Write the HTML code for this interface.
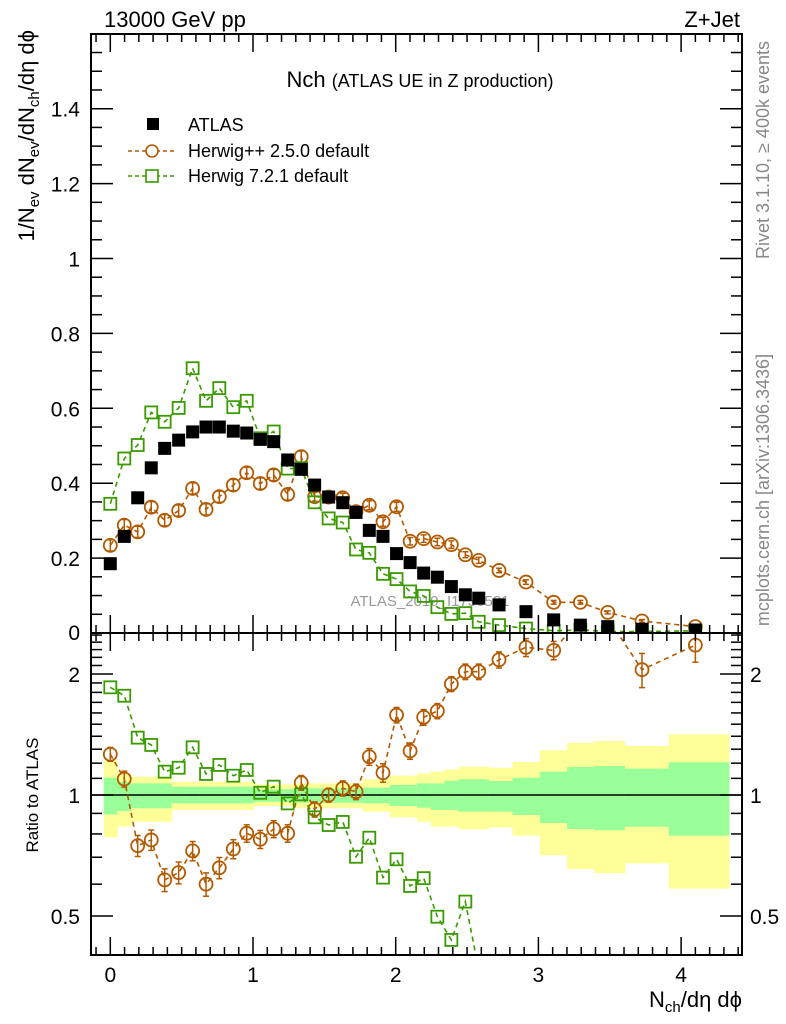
<!DOCTYPE html>
<html><head><meta charset="utf-8"><style>
html,body{margin:0;padding:0;background:#fff;width:786px;height:1024px;overflow:hidden;position:relative;}
svg{display:block;font-family:"Liberation Sans",Arial,sans-serif;}
</style></head><body>
<svg id="chart" style="position:absolute;left:0;top:0" width="786" height="1024" viewBox="0 0 786 1024" xmlns="http://www.w3.org/2000/svg"></svg>
<script>
// ---- data ----
const xVals = [0,0.098,0.192,0.287,0.381,0.479,0.577,0.671,0.764,0.862,0.956,1.051,1.145,1.243,1.338,1.432,1.530,1.629,1.722,1.815,1.911,2.006,2.101,2.196,2.292,2.390,2.488,2.582,2.724,2.913,3.107,3.294,3.486,3.726,4.100];
const atlasVals = [0.185,0.258,0.361,0.441,0.493,0.515,0.537,0.550,0.550,0.539,0.534,0.517,0.511,0.462,0.437,0.395,0.363,0.348,0.322,0.274,0.258,0.212,0.188,0.160,0.149,0.124,0.102,0.093,0.075,0.057,0.035,0.021,0.017,0.010,0.008];
const herwigPPVals = [0.234,0.288,0.270,0.336,0.301,0.327,0.386,0.330,0.364,0.395,0.428,0.399,0.422,0.370,0.471,0.364,0.363,0.361,0.324,0.341,0.297,0.337,0.245,0.252,0.243,0.236,0.209,0.194,0.167,0.136,0.082,0.082,0.055,0.032,0.017];
const herwig7Vals = [0.345,0.466,0.502,0.589,0.564,0.601,0.707,0.620,0.654,0.603,0.620,0.520,0.538,0.439,0.440,0.349,0.306,0.295,0.223,0.214,0.158,0.144,0.111,0.099,0.069,0.051,0.053,0.030,0.021,0.012,0.006,0.008,0.004,0.004,0.006];
const ratioPP = [1.263,1.096,0.748,0.773,0.615,0.641,0.726,0.600,0.659,0.734,0.803,0.776,0.823,0.803,1.073,0.921,1.0,1.039,1.019,1.245,1.136,1.581,1.287,1.561,1.618,1.889,2.027,2.027,2.17,2.33,2.29,3.9,3.2,2.05,2.36];
const ratio7 = [1.853,1.766,1.389,1.332,1.143,1.169,1.314,1.128,1.188,1.117,1.154,1.013,1.049,0.953,1.004,0.880,0.842,0.857,0.702,0.783,0.623,0.692,0.594,0.621,0.498,0.436,0.543,0.32,0.28,0.21,0.17,0.3,0.25,0.3,0.3];
const bandYelUp = [1.215,1.128,1.110,1.110,1.110,1.079,1.079,1.079,1.079,1.079,1.079,1.063,1.063,1.063,1.069,1.069,1.069,1.069,1.069,1.094,1.094,1.117,1.117,1.132,1.143,1.158,1.176,1.176,1.169,1.208,1.292,1.347,1.362,1.324,1.416];
const bandGrnUp = [1.104,1.079,1.069,1.069,1.069,1.049,1.049,1.049,1.049,1.049,1.049,1.033,1.033,1.033,1.039,1.039,1.039,1.039,1.039,1.043,1.043,1.059,1.059,1.069,1.069,1.085,1.094,1.094,1.083,1.104,1.143,1.174,1.181,1.163,1.206];
const bandGrnDn = [0.895,0.912,0.927,0.927,0.927,0.953,0.953,0.953,0.953,0.953,0.953,0.962,0.962,0.962,0.957,0.957,0.957,0.957,0.957,0.953,0.953,0.939,0.939,0.930,0.918,0.918,0.909,0.909,0.909,0.892,0.852,0.823,0.817,0.834,0.792];
const bandYelDn = [0.785,0.834,0.858,0.858,0.858,0.918,0.918,0.918,0.918,0.918,0.918,0.939,0.939,0.939,0.927,0.927,0.927,0.927,0.927,0.909,0.909,0.880,0.880,0.858,0.834,0.834,0.821,0.821,0.831,0.792,0.708,0.654,0.639,0.676,0.585];
const errPP = [0.015,0.015,0.015,0.015,0.015,0.015,0.015,0.015,0.015,0.015,0.015,0.015,0.015,0.015,0.015,0.012,0.012,0.012,0.012,0.012,0.012,0.012,0.01,0.01,0.01,0.01,0.008,0.008,0.006,0.006,0.005,0.005,0.004,0.004,0.003];
const errRatioPP = [0.05,0.05,0.045,0.045,0.04,0.04,0.04,0.04,0.04,0.04,0.04,0.04,0.04,0.04,0.045,0.04,0.04,0.045,0.045,0.06,0.06,0.07,0.06,0.07,0.07,0.08,0.09,0.09,0.1,0.12,0.12,0.2,0.2,0.2,0.22];
const xTicks = [0,1,2,3,4];
const yTicksTop = [0.2,0.4,0.6,0.8,1,1.2,1.4];
const yTickLabelsTop = ["0.2","0.4","0.6","0.8","1","1.2","1.4"];
const rTicks = [0.5,1,2];
const rTickLabels = ["0.5","1","2"];

// ---- axes ----
const L=91, R=742, T=34, M=633, B=955;
const X = v => 110.3 + v*142.7;
const Y = v => M - v*374.5;
const RY = r => 795 - 121*Math.log2(r);
const svg = document.getElementById('chart');
const NS='http://www.w3.org/2000/svg';
function mk(tag, attrs, parent){ const e=document.createElementNS(NS,tag); for(const k in attrs) e.setAttribute(k,attrs[k]); (parent||svg).appendChild(e); return e; }

const defs = mk('defs',{});
const c1 = mk('clipPath',{id:'ctop'},defs); mk('rect',{x:L,y:T,width:R-L,height:M-T},c1);
const c2 = mk('clipPath',{id:'cbot'},defs); mk('rect',{x:L,y:M,width:R-L,height:B-M},c2);

const gBand = mk('g',{'clip-path':'url(#cbot)'});


const edges = [];
for(let i=0;i<=xVals.length;i++){
  if(i===0) edges.push(-0.046);
  else if(i===xVals.length) edges.push(4.335);
  else edges.push((xVals[i-1]+xVals[i])/2);
}
for(let i=0;i<xVals.length;i++){
  const x0=X(edges[i]), x1=X(edges[i+1]);
  const ry = mk('rect',{x:x0,y:RY(bandYelUp[i]),width:x1-x0+0.5,height:RY(bandYelDn[i])-RY(bandYelUp[i]),fill:'#ffff99'},gBand);
  
  
  const rg = mk('rect',{x:x0,y:RY(bandGrnUp[i]),width:x1-x0+0.5,height:RY(bandGrnDn[i])-RY(bandGrnUp[i]),fill:'#99ff99'},gBand);
  
  
}
const one = mk('line',{x1:L,x2:R,y1:RY(1),y2:RY(1),stroke:'#000','stroke-width':1.5});



const wm = mk('text',{x:430,y:606,'font-size':15,fill:'#999','text-anchor':'middle'});
wm.textContent='ATLAS_2019_I1736531';



const ORANGE='#b35900', GREEN='#3a9a00';
function series(vals, yfn, color, kind, clip, name, errs, ylo, yhi){
  const g = mk('g',{'clip-path':clip});
  
  
  const cl = y => Math.max(ylo-15, Math.min(yhi+15, y));
  let d='';
  vals.forEach((v,i)=>{ d += (i?'L':'M')+X(xVals[i]).toFixed(1)+','+cl(yfn(v)).toFixed(1); });
  mk('path',{d:d,fill:'none',stroke:color,'stroke-width':1.6,'stroke-dasharray':'5,4'},g);
  vals.forEach((v,i)=>{
    const cx=X(xVals[i]), cy=yfn(v);
    if(cy<ylo-8||cy>yhi+8) return;
    if(errs){
      const e = errs[i];
      const y1=cl(yfn(v+e)), y2=cl(yfn(Math.max(v-e,0.0001)));
      mk('line',{x1:cx,x2:cx,y1:y1,y2:y2,stroke:color,'stroke-width':1.5},g);
      mk('line',{x1:cx-3,x2:cx+3,y1:y1,y2:y1,stroke:color,'stroke-width':1.5},g);
      mk('line',{x1:cx-3,x2:cx+3,y1:y2,y2:y2,stroke:color,'stroke-width':1.5},g);
    }
    let m;
    if(kind==='circle') m=mk('circle',{cx:cx,cy:cy,r:6.5,fill:'none',stroke:color,'stroke-width':1.8},g);
    else m=mk('rect',{x:cx-6,y:cy-6,width:12,height:12,fill:'none',stroke:color,'stroke-width':1.8},g);
    
    
  });
}
series(herwigPPVals, Y, ORANGE, 'circle','url(#ctop)','herwigpp-series', errPP, T, M);
series(herwig7Vals, Y, GREEN, 'square','url(#ctop)','herwig7-series', null, T, M);
const gA = mk('g',{'clip-path':'url(#ctop)'});


atlasVals.forEach((v,i)=>{
  const r = mk('rect',{x:X(xVals[i])-6.5,y:Y(v)-6.5,width:13,height:13,fill:'#000'},gA);
  
  
});
series(ratioPP, RY, ORANGE, 'circle','url(#cbot)','herwigpp-ratio', errRatioPP, M, B);
series(ratio7, RY, GREEN, 'square','url(#cbot)','herwig7-ratio', null, M, B);

mk('rect',{x:L,y:T,width:R-L,height:B-T,fill:'none',stroke:'#000','stroke-width':2});
mk('line',{x1:L,x2:R,y1:M,y2:M,stroke:'#000','stroke-width':2});

const gt = mk('g',{stroke:'#000','stroke-width':1.5});
for(let k=-1;k<=44;k++){
  const v=k/10, x=X(v);
  if(x<L||x>R) continue;
  const maj = (k%10===0), len = maj?18:8;
  [T,M].forEach(y0=>mk('line',{x1:x,x2:x,y1:y0,y2:y0+len},gt));
  [M,B].forEach(y0=>mk('line',{x1:x,x2:x,y1:y0,y2:y0-len},gt));
}
xTicks.forEach(v=>{
  const t=mk('text',{x:X(v),y:982,'font-size':21,'text-anchor':'middle'});
  t.textContent=String(v);
  
  
});
for(let k=0;k<=31;k++){
  const v=k*0.05, y=Y(v);
  if(y<T) continue;
  const maj=(k%4===0), len=maj?22:11;
  mk('line',{x1:L,x2:L+len,y1:y,y2:y},gt);
  mk('line',{x1:R,x2:R-len,y1:y,y2:y},gt);
}
yTicksTop.forEach((v,i)=>{
  const t=mk('text',{x:80,y:Y(v)+8,'font-size':21,'text-anchor':'end'});
  t.textContent=yTickLabelsTop[i];
  
  
});
const z0=mk('text',{x:80,y:640,'font-size':21,'text-anchor':'end'}); z0.textContent='0';
const rminor=[0.4,0.5,0.6,0.7,0.8,0.9,1,1.1,1.2,1.3,1.4,1.5,1.6,1.7,1.8,1.9,2,2.1,2.2,2.3,2.4,2.5];
rminor.forEach(r=>{
  const y=RY(r); if(y<M||y>B) return;
  const maj=(r===0.5||r===1||r===2), len=maj?22:11;
  mk('line',{x1:L,x2:L+len,y1:y,y2:y},gt);
  mk('line',{x1:R,x2:R-len,y1:y,y2:y},gt);
});
rTicks.forEach((r,i)=>{
  const t=mk('text',{x:80,y:RY(r)+8,'font-size':21,'text-anchor':'end'});
  t.textContent=rTickLabels[i];
  
  
  const t2=mk('text',{x:750,y:RY(r)+8,'font-size':21,'text-anchor':'start'});
  t2.textContent=rTickLabels[i];
  
  
});
</script>
<svg style="position:absolute;left:0;top:0" width="786" height="1024" xmlns="http://www.w3.org/2000/svg" font-family="Liberation Sans, Arial, sans-serif">
  <text x="104" y="27" font-size="22">13000 GeV pp</text>
  <text x="740" y="27" font-size="22" text-anchor="end">Z+Jet</text>
  <text x="420" y="87" font-size="22" text-anchor="middle">Nch <tspan font-size="18">(ATLAS UE in Z production)</tspan></text>
  <g>
    <rect x="147" y="118" width="12" height="12" fill="#000"/>
    <text x="188" y="131" font-size="18">ATLAS</text>
    <line x1="128" x2="176" y1="151" y2="151" stroke="#b35900" stroke-width="1.5" stroke-dasharray="4,3"/>
    <circle cx="152" cy="151" r="6" fill="#fff" stroke="#b35900" stroke-width="1.6"/>
    <text x="188" y="157" font-size="18">Herwig++ 2.5.0 default</text>
    <line x1="128" x2="176" y1="176" y2="176" stroke="#3a9a00" stroke-width="1.5" stroke-dasharray="4,3"/>
    <rect x="146" y="170" width="12" height="12" fill="#fff" stroke="#3a9a00" stroke-width="1.6"/>
    <text x="188" y="182" font-size="18">Herwig 7.2.1 default</text>
  </g>
  <text transform="translate(34,30) rotate(-90)" font-size="22" text-anchor="end">1/N<tspan font-size="15" dy="5">ev</tspan><tspan dy="-5"> dN</tspan><tspan font-size="15" dy="5">ev</tspan><tspan dy="-5">/dN</tspan><tspan font-size="15" dy="5">ch</tspan><tspan dy="-5">/dη dϕ</tspan></text>
  <text transform="translate(38,795) rotate(-90)" font-size="17" text-anchor="middle">Ratio to ATLAS</text>
  <text x="742" y="1007" font-size="22" text-anchor="end">N<tspan font-size="15" dy="5">ch</tspan><tspan dy="-5">/dη dϕ</tspan></text>
  <text transform="translate(769,150) rotate(-90)" font-size="18" fill="#888" text-anchor="middle">Rivet 3.1.10, ≥ 400k events</text>
  <text transform="translate(769,490) rotate(-90)" font-size="18" fill="#888" text-anchor="middle">mcplots.cern.ch [arXiv:1306.3436]</text>
</svg>
</body></html>
